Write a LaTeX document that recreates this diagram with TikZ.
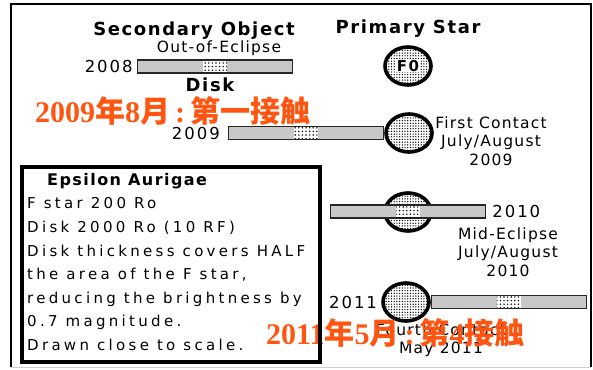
\documentclass[tikz,border=0pt]{standalone}
\usepackage{fontspec}
\setmainfont{DejaVu Sans}
\newfontfamily\headfont[LetterSpace=9]{DejaVu Sans}
\newfontfamily\labelfont[LetterSpace=8]{DejaVu Sans}
\newfontfamily\yearfont[LetterSpace=12]{DejaVu Sans}
\newfontfamily\notefont[LetterSpace=22]{DejaVu Sans}
\newfontfamily\datefont{Liberation Serif}
\newfontfamily\cjkfont{Noto Sans CJK SC}
\usepackage{tikz}
\usetikzlibrary{positioning,shapes.geometric,patterns.meta}
\usepackage{xcolor}
\definecolor{barfill}{HTML}{C8C8C8}
\definecolor{noteorange}{HTML}{FF5511}
\definecolor{framegray}{HTML}{D0D0D0}

\begin{document}
\begin{tikzpicture}[
  x=1pt, y=-1pt,
  diskbar/.style={
    draw=black!85,
    fill=barfill,
    line width=1.2pt,
    minimum width=155pt,
    minimum height=13pt,
    inner sep=0pt
  },
  diskgap/.style={
    preaction={fill=white},
    pattern={Dots[distance=3.6pt, radius=0.8pt]},
    minimum width=24pt,
    minimum height=11.5pt,
    inner sep=0pt
  },
  starball/.style={
    ellipse,
    draw=black,
    line width=3.6pt,
    preaction={fill=white},
    pattern={Dots[distance=2.7pt, radius=0.7pt]},
    minimum width=46pt,
    minimum height=38pt,
    inner sep=0pt
  },
  headtext/.style={font=\headfont\bfseries\fontsize{18}{18}\selectfont, inner sep=0pt},
  labeltext/.style={font=\labelfont\fontsize{15.5}{18.5}\selectfont, inner sep=0pt, align=center},
  yeartext/.style={font=\yearfont\fontsize{16.5}{18.5}\selectfont, inner sep=0pt},
  datenote/.style={font=\datefont\bfseries\fontsize{30}{30}\selectfont, text=noteorange, inner sep=0pt, anchor=west}
]

  \useasboundingbox (0,0) rectangle (593,369);

  % -------------------------------------------------------------
  % OUTER FRAME
  % -------------------------------------------------------------
  \draw[framegray, line width=1pt] (11,367) -- (591,367);
  \draw[line width=1.6pt] (11,367) -- (11,4) -- (591,4) -- (591,367);

  % -------------------------------------------------------------
  % HEADINGS AND 2008 (OUT OF ECLIPSE)
  % -------------------------------------------------------------
  \node[headtext] (sechead) at (194,31) {Secondary Object};
  \node[labeltext] (oechead) at (219,48) {Out-of-Eclipse};
  \node[headtext] (prihead) at (408,29) {Primary Star};

  \node[diskbar] (bar08) at (215,66.5) {};
  \node[diskgap] (gap08) at (bar08) {};
  \node[yeartext, left=4pt of bar08] (yr08) {2008};
  \node[headtext] (diskhead) at (210,85) {Disk};

  \node[starball] (starF) at (408,66) {};
  \node[headtext, font=\headfont\bfseries\fontsize{15}{15}\selectfont, fill=white, inner sep=0.8pt] (fzero) at (starF) {F0};

  % -------------------------------------------------------------
  % 2009: FIRST CONTACT
  % -------------------------------------------------------------
  \node[datenote] (note09) at (35,111)
    {2009{\cjkfont 年}8{\cjkfont 月}\,:\,{\cjkfont 第一接触}};

  \node[starball] (star09) at (409,133) {};
  \node[diskbar, anchor=east] (bar09) at (star09.west) {};
  \node[diskgap] (gap09) at (bar09) {};
  \node[yeartext, left=8pt of bar09] (yr09) {2009};
  \node[labeltext] (first) at (491,141) {First Contact\\July/August\\2009};

  % -------------------------------------------------------------
  % 2010: MID-ECLIPSE
  % -------------------------------------------------------------
  \node[starball] (star10) at (408,212) {};
  \node[diskbar] (bar10) at (408,211.5) {};
  \node[diskgap] (gap10) at (bar10) {};
  \node[yeartext, right=6pt of bar10] (yr10) {2010};
  \node[labeltext] (mid) at (508,252) {Mid-Eclipse\\July/August\\2010};

  % -------------------------------------------------------------
  % 2011: FOURTH CONTACT
  % -------------------------------------------------------------
  \node[starball] (star11) at (406,302) {};
  \node[diskbar, anchor=west] (bar11) at (star11.east) {};
  \node[diskgap] (gap11) at (bar11) {};
  \node[yeartext, left=4pt of star11] (yr11) {2011};
  \node[labeltext] (fourth) at (441,340) {Fourth Contact\\May 2011};

  \node[datenote] (note11) at (266,333)
    {2011{\cjkfont 年}5{\cjkfont 月}\,:\,{\cjkfont 第}4{\cjkfont 接触}};

  % -------------------------------------------------------------
  % EPSILON AURIGAE FACT BOX
  % -------------------------------------------------------------
  \node[draw, line width=4pt, minimum width=298pt, minimum height=195pt, anchor=north west] (factbox) at (20,165) {};
  \node[font=\notefont\fontsize{15}{23.6}\selectfont, align=left, anchor=north west, inner sep=0pt] (facts) at (27,173) {
    \hspace*{20pt}{\headfont\bfseries\fontsize{16}{23.6}\selectfont Epsilon Aurigae}\\
    F star 200 Ro\\
    Disk 2000 Ro (10 RF)\\
    Disk thickness covers HALF\\
    the area of the F star,\\
    reducing the brightness by\\
    0.7 magnitude.\\
    Drawn close to scale.
  };

\end{tikzpicture}
\end{document}
